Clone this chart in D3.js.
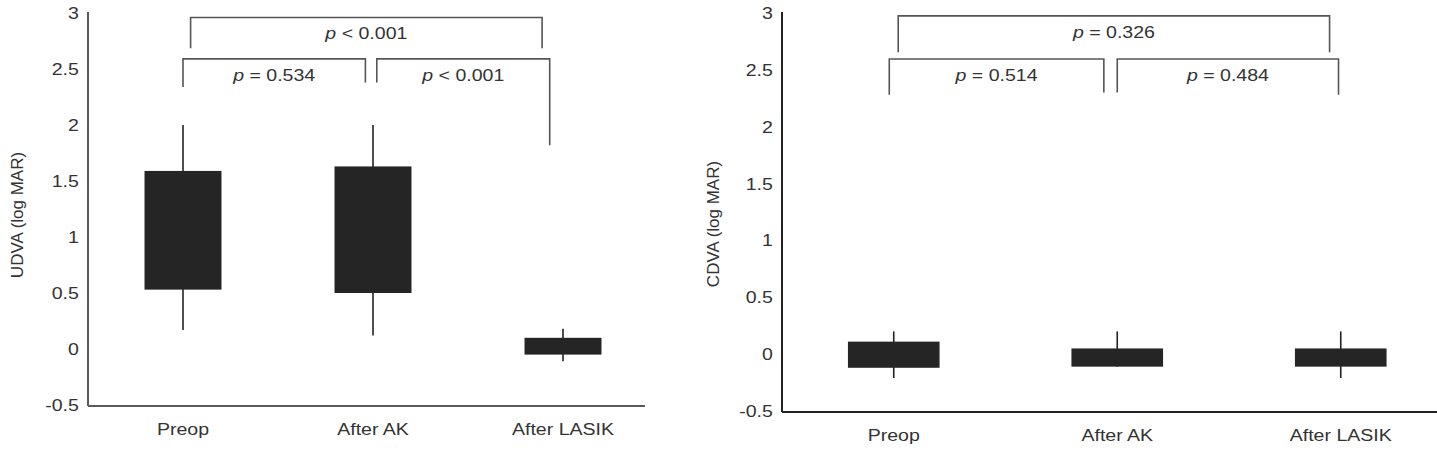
<!DOCTYPE html>
<html>
<head>
<meta charset="utf-8">
<script src="https://cdn.jsdelivr.net/npm/d3@7"></script>
<style>
  body { margin: 0; background: #fff; }
  text { font-family: "Liberation Sans", Arial, sans-serif; }
</style>
</head>
<body>
<div id="chart"></div>
<script>
// groups on the x axis
const categories = ["Preop", "After AK", "After LASIK"];
const yTicks = [-0.5, 0, 0.5, 1, 1.5, 2, 2.5, 3];

// UDVA (log MAR): box low/high and whisker low/high
const udvaBoxLow = [0.53, 0.50, -0.05];
const udvaBoxHigh = [1.59, 1.63, 0.10];
const udvaWhiskLow = [0.17, 0.12, -0.11];
const udvaWhiskHigh = [2.0, 2.0, 0.18];

// CDVA (log MAR)
const cdvaBoxLow = [-0.12, -0.11, -0.11];
const cdvaBoxHigh = [0.11, 0.05, 0.05];
const cdvaWhiskLow = [-0.21, -0.11, -0.21];
const cdvaWhiskHigh = [0.20, 0.20, 0.20];

// significance brackets: ends as group positions, bar and leg heights in log MAR
const udvaBrackets = [
  { x0: 0.04, x1: 1.89, y: 2.96, leg0: 2.685, leg1: 2.685, label: "< 0.001" },
  { x0: 0.0, x1: 0.96, y: 2.59, leg0: 2.34, leg1: 2.38, label: "= 0.534" },
  { x0: 1.02, x1: 1.93, y: 2.59, leg0: 2.38, leg1: 1.82, label: "< 0.001" }
];
const cdvaBrackets = [
  { x0: 0.02, x1: 1.95, y: 2.975, leg0: 2.655, leg1: 2.655, label: "= 0.326" },
  { x0: -0.02, x1: 0.94, y: 2.595, leg0: 2.28, leg1: 2.30, label: "= 0.514" },
  { x0: 1.0, x1: 1.99, y: 2.595, leg0: 2.30, leg1: 2.28, label: "= 0.484" }
];

// the source figure is a bit stretched sideways, so are its letters
const stretch = "scale(1.15,1)";

const svg = d3.select("#chart").append("svg")
  .attr("width", 1437)
  .attr("height", 450);

function drawPanel(opt) {
  const g = svg.append("g");

  const x = d3.scaleBand()
    .domain(categories)
    .range([opt.left, opt.left + 3 * opt.step])
    .padding(0);
  const y = d3.scaleLinear()
    .domain([-0.5, 3])
    .range([opt.bottom, opt.top]);
  const pos = d3.scaleLinear()
    .domain([0, 1])
    .range([x(categories[0]) + x.bandwidth() / 2, x(categories[1]) + x.bandwidth() / 2]);
  const boxW = x.bandwidth() * opt.boxFrac;

  // y axis
  const ya = g.append("g")
    .attr("transform", "translate(" + opt.left + ",0)")
    .call(d3.axisLeft(y).tickValues(yTicks).tickFormat(d => String(d)).tickSize(0).tickPadding(8));
  ya.select("path.domain")
    .attr("stroke", opt.axisColor)
    .attr("stroke-width", 2)
    .attr("d", "M0," + (opt.bottom + 1) + "V" + (opt.top - 1));
  ya.selectAll("text")
    .style("font-size", "17px")
    .attr("transform", stretch)
    .attr("fill", "#333");

  // x axis
  const xa = g.append("g")
    .attr("transform", "translate(0," + (opt.bottom + 1) + ")")
    .call(d3.axisBottom(x).tickSize(0).tickPadding(opt.xPad));
  xa.select("path.domain")
    .attr("stroke", opt.axisColor)
    .attr("stroke-width", 2)
    .attr("d", "M" + opt.left + ",0H" + opt.xEnd);
  xa.selectAll("text")
    .style("font-size", "17px")
    .attr("transform", stretch)
    .attr("fill", "#333");

  // axis title
  g.append("text")
    .attr("transform", "translate(" + opt.titleX + "," + opt.titleY + ")rotate(-90)")
    .attr("text-anchor", "middle")
    .style("font-size", "17px")
    .attr("fill", "#333")
    .text(opt.title);

  const rows = categories.map((c, i) => ({
    cat: c, lo: opt.boxLow[i], hi: opt.boxHigh[i], wlo: opt.whiskLow[i], whi: opt.whiskHigh[i]
  }));

  // whiskers
  g.selectAll("line.whisk")
    .data(rows)
    .enter()
    .append("line")
      .attr("class", "whisk")
      .attr("x1", d => x(d.cat) + x.bandwidth() / 2)
      .attr("x2", d => x(d.cat) + x.bandwidth() / 2)
      .attr("y1", d => y(d.wlo))
      .attr("y2", d => y(d.whi))
      .attr("stroke", "#222")
      .attr("stroke-width", 1.6);

  // boxes
  g.selectAll("rect.box")
    .data(rows)
    .enter()
    .append("rect")
      .attr("class", "box")
      .attr("x", d => x(d.cat) + x.bandwidth() / 2 - boxW / 2)
      .attr("y", d => y(d.hi))
      .attr("width", boxW)
      .attr("height", d => y(d.lo) - y(d.hi))
      .attr("fill", "#252525");

  // brackets
  g.selectAll("path.bracket")
    .data(opt.brackets)
    .enter()
    .append("path")
      .attr("class", "bracket")
      .attr("fill", "none")
      .attr("stroke", "#555")
      .attr("stroke-width", 1.6)
      .attr("d", d => "M" + pos(d.x0) + "," + y(d.leg0) +
        "V" + y(d.y) + "H" + pos(d.x1) + "V" + y(d.leg1));

  const lab = g.selectAll("g.plab")
    .data(opt.brackets)
    .enter()
    .append("g")
      .attr("class", "plab")
      .attr("transform", d => "translate(" + (pos(d.x0) + pos(d.x1)) / 2 + "," + (y(d.y) + 22) + ")" + stretch)
    .append("text")
      .attr("text-anchor", "middle")
      .style("font-size", "17px")
      .attr("fill", "#333");
  lab.append("tspan").style("font-style", "italic").text("p");
  lab.append("tspan").text(d => " " + d.label);
}

drawPanel({
  left: 88, step: 190, top: 13, bottom: 405, xEnd: 645, boxFrac: 0.405,
  xPad: 17, axisColor: "#5a5a5a", title: "UDVA (log MAR)", titleX: 23, titleY: 215,
  boxLow: udvaBoxLow, boxHigh: udvaBoxHigh, whiskLow: udvaWhiskLow, whiskHigh: udvaWhiskHigh,
  brackets: udvaBrackets
});

drawPanel({
  left: 782, step: 223.5, top: 13, bottom: 411, xEnd: 1437, boxFrac: 0.41,
  xPad: 17, axisColor: "#222", title: "CDVA (log MAR)", titleX: 719, titleY: 224,
  boxLow: cdvaBoxLow, boxHigh: cdvaBoxHigh, whiskLow: cdvaWhiskLow, whiskHigh: cdvaWhiskHigh,
  brackets: cdvaBrackets
});
</script>
</body>
</html>
